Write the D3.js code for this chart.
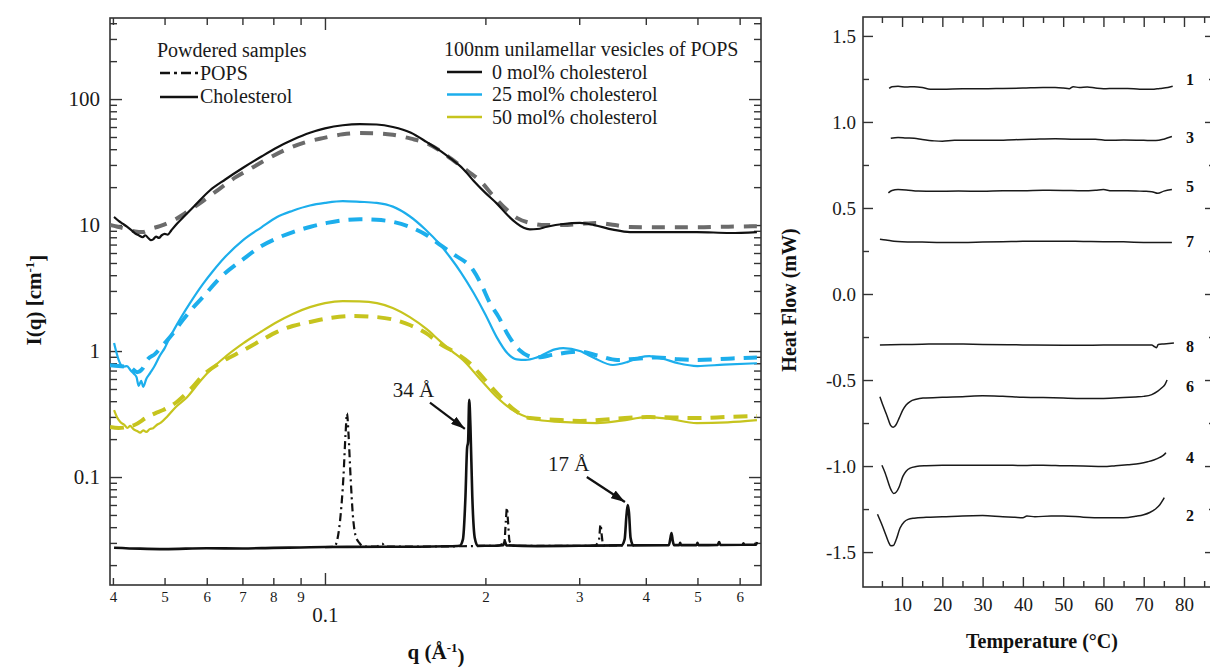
<!DOCTYPE html>
<html lang="en">
<head>
<meta charset="UTF-8">
<title>SAXS / DSC of POPS vesicles</title>
<script src="https://d3js.org/d3.v7.min.js"></script>
<style>
  body { margin: 0; background: #fff; }
  svg { display: block; font-family: "Liberation Serif", "Times New Roman", serif; }
  .frame { fill: none; stroke: #333; stroke-width: 1.6; }
  .axis path { display: none; }
  .axis line { stroke: #333; stroke-width: 1.4; }
  .axis text { fill: #1a1a1a; font-family: "Liberation Serif", "Times New Roman", serif; }
  .title { font-weight: bold; fill: #111; }
  .legend { font-size: 20px; fill: #1a1a1a; }
</style>
</head>
<body>
<div id="chart"></div>
<script>

// ---------- left panel: SAXS, q (1/Å) vs I(q) (1/cm) ----------
// vesicles, 0 mol% cholesterol (solid) and powder-equivalent fit (dashed grey)
var ves0 = [[0.0402,11.6],[0.0410,10.8],[0.0418,10.2],[0.0425,9.7],[0.0432,9.2],[0.0440,8.6],[0.0447,8.3],[0.0455,8.0],[0.0460,8.3],[0.0466,7.9],[0.0471,7.6],[0.0476,7.7],[0.0482,8.1],[0.0488,7.9],[0.0494,8.3],[0.0500,8.5],[0.0507,8.4],[0.0515,9.1],[0.0527,10.2],[0.0545,11.8],[0.0570,14.3],[0.0608,18.8],[0.0650,23.0],[0.0702,28.5],[0.0760,35.0],[0.0813,41.3],[0.0870,47.5],[0.0937,54.0],[0.1000,58.5],[0.1080,62.0],[0.1163,63.3],[0.1250,62.8],[0.1341,60.0],[0.1450,54.0],[0.1553,45.5],[0.1644,39.0],[0.1720,33.8],[0.1815,28.0],[0.1900,22.5],[0.2000,18.0],[0.2102,14.8],[0.2200,12.0],[0.2290,10.3],[0.2360,9.5],[0.2424,9.25],[0.2500,9.3],[0.2609,9.7],[0.2800,10.2],[0.3008,10.4],[0.3200,10.0],[0.3470,9.2],[0.3734,8.8],[0.4200,8.8],[0.4988,8.8],[0.5750,8.65],[0.6465,8.8]];
var ves0Dash = [[0.0395,10.0],[0.0420,9.4],[0.0440,8.9],[0.0455,8.8],[0.0470,9.3],[0.0490,9.8],[0.0520,10.9],[0.0551,12.7],[0.0590,15.5],[0.0635,19.5],[0.0680,24.0],[0.0733,28.8],[0.0790,34.5],[0.0848,40.0],[0.0920,45.5],[0.0991,49.0],[0.1080,52.5],[0.1163,53.7],[0.1250,53.5],[0.1341,52.0],[0.1450,48.5],[0.1553,44.5],[0.1650,38.5],[0.1769,31.0],[0.1860,26.5],[0.1954,22.5],[0.2070,17.0],[0.2195,13.2],[0.2300,11.3],[0.2424,10.4],[0.2600,10.0],[0.2796,10.0],[0.3000,10.2],[0.3237,10.4],[0.3500,10.0],[0.3734,9.65],[0.4300,9.6],[0.4988,9.6],[0.5700,9.7],[0.6465,9.8]];

// 25 mol% cholesterol
var ves25 = [[0.0402,1.16],[0.0406,0.98],[0.0410,0.85],[0.0418,0.75],[0.0425,0.76],[0.0432,0.70],[0.0438,0.66],[0.0443,0.62],[0.0447,0.53],[0.0452,0.58],[0.0456,0.52],[0.0462,0.60],[0.0470,0.67],[0.0478,0.75],[0.0490,0.92],[0.0500,1.05],[0.0512,1.29],[0.0535,1.80],[0.0558,2.40],[0.0590,3.4],[0.0616,4.3],[0.0650,5.6],[0.0702,7.6],[0.0760,9.6],[0.0813,11.6],[0.0870,13.0],[0.0937,14.3],[0.1000,15.0],[0.1080,15.5],[0.1163,15.3],[0.1250,15.0],[0.1341,14.0],[0.1440,11.8],[0.1540,9.3],[0.1644,7.0],[0.1720,5.5],[0.1800,4.2],[0.1900,2.9],[0.2000,1.95],[0.2100,1.29],[0.2200,0.96],[0.2290,0.86],[0.2380,0.85],[0.2500,0.89],[0.2700,1.03],[0.2800,1.056],[0.3008,1.0],[0.3200,0.88],[0.3470,0.775],[0.3700,0.82],[0.3900,0.89],[0.4060,0.91],[0.4300,0.87],[0.4600,0.80],[0.5000,0.76],[0.5600,0.78],[0.6465,0.80]];
var ves25Dash = [[0.0395,0.77],[0.0410,0.76],[0.0431,0.74],[0.0444,0.68],[0.0454,0.72],[0.0464,0.85],[0.0480,0.95],[0.0497,1.12],[0.0520,1.40],[0.0541,1.76],[0.0565,2.2],[0.0590,2.68],[0.0635,3.8],[0.0700,5.3],[0.0755,6.7],[0.0810,7.8],[0.0871,8.8],[0.0940,9.7],[0.1009,10.4],[0.1080,10.9],[0.1163,11.1],[0.1250,11.0],[0.1341,10.6],[0.1450,9.6],[0.1553,8.3],[0.1650,6.9],[0.1750,5.8],[0.1896,4.4],[0.1970,3.3],[0.2040,2.4],[0.2120,1.85],[0.2195,1.39],[0.2260,1.15],[0.2322,1.01],[0.2400,0.92],[0.2496,0.89],[0.2700,0.94],[0.3008,0.99],[0.3250,0.92],[0.3534,0.85],[0.3850,0.87],[0.4198,0.89],[0.4600,0.86],[0.4988,0.85],[0.5700,0.87],[0.6465,0.89]];

// 50 mol% cholesterol
var ves50 = [[0.0402,0.34],[0.0407,0.30],[0.0413,0.273],[0.0420,0.26],[0.0426,0.245],[0.0431,0.255],[0.0437,0.24],[0.0444,0.232],[0.0450,0.225],[0.0456,0.235],[0.0462,0.228],[0.0469,0.24],[0.0476,0.244],[0.0484,0.26],[0.0492,0.27],[0.0505,0.30],[0.0525,0.36],[0.0551,0.43],[0.0580,0.56],[0.0608,0.70],[0.0650,0.90],[0.0702,1.15],[0.0760,1.43],[0.0813,1.70],[0.0870,1.97],[0.0937,2.23],[0.1000,2.40],[0.1080,2.49],[0.1160,2.48],[0.1252,2.40],[0.1340,2.20],[0.1443,1.86],[0.1550,1.50],[0.1644,1.20],[0.1730,1.00],[0.1815,0.85],[0.1954,0.60],[0.2102,0.43],[0.2250,0.34],[0.2455,0.29],[0.2700,0.275],[0.3237,0.268],[0.3600,0.28],[0.4019,0.299],[0.4400,0.29],[0.4988,0.268],[0.5700,0.272],[0.6465,0.283]];
var ves50Dash = [[0.0395,0.25],[0.0410,0.245],[0.0425,0.249],[0.0440,0.26],[0.0464,0.299],[0.0480,0.32],[0.0497,0.34],[0.0527,0.394],[0.0560,0.50],[0.0590,0.64],[0.0640,0.82],[0.0702,1.01],[0.0760,1.22],[0.0813,1.42],[0.0870,1.58],[0.0937,1.70],[0.1030,1.84],[0.1128,1.90],[0.1252,1.86],[0.1340,1.78],[0.1443,1.61],[0.1550,1.38],[0.1644,1.14],[0.1750,0.98],[0.1870,0.80],[0.1990,0.60],[0.2102,0.464],[0.2250,0.35],[0.2424,0.294],[0.2700,0.285],[0.3008,0.279],[0.3500,0.29],[0.4019,0.299],[0.4500,0.297],[0.4988,0.294],[0.5700,0.30],[0.6465,0.305]];

// powdered samples
var powderChol = [[0.0402,0.0275],[0.0450,0.0270],[0.0500,0.0268],[0.0600,0.0272],[0.0700,0.0271],[0.0800,0.0274],[0.0900,0.0276],[0.1000,0.0278],[0.1100,0.0279],[0.1300,0.0280],[0.1500,0.0280],[0.1700,0.0282],[0.1790,0.0285],[0.1815,0.032],[0.1835,0.07],[0.1848,0.17],[0.1856,0.19],[0.1865,0.41],[0.1875,0.25],[0.1890,0.07],[0.1910,0.033],[0.1935,0.0285],[0.2100,0.0285],[0.2160,0.0287],[0.2175,0.031],[0.2190,0.0287],[0.2500,0.0283],[0.3000,0.0285],[0.3600,0.0287],[0.3650,0.032],[0.3680,0.05],[0.3700,0.060],[0.3720,0.052],[0.3745,0.033],[0.3790,0.0287],[0.4420,0.0288],[0.4450,0.033],[0.4470,0.036],[0.4495,0.031],[0.4520,0.0288],[0.4620,0.0288],[0.4640,0.0300],[0.4660,0.0288],[0.4980,0.0288],[0.5000,0.0300],[0.5020,0.0288],[0.5460,0.0289],[0.5490,0.0305],[0.5520,0.0289],[0.6080,0.0290],[0.6100,0.0298],[0.6120,0.0290],[0.6440,0.0290],[0.6465,0.0305]];
var powderPops = [[0.1000,0.0278],[0.1040,0.0279],[0.1055,0.032],[0.1070,0.05],[0.1083,0.10],[0.1093,0.22],[0.1100,0.32],[0.1107,0.22],[0.1117,0.10],[0.1128,0.05],[0.1140,0.035],[0.1160,0.030],[0.1185,0.0280],[0.1250,0.0280],[0.1280,0.0296],[0.1300,0.0280],[0.2100,0.0285],[0.2170,0.030],[0.2185,0.045],[0.2195,0.057],[0.2205,0.045],[0.2220,0.031],[0.2260,0.0284],[0.3200,0.0285],[0.3265,0.031],[0.3290,0.042],[0.3305,0.035],[0.3330,0.0286],[0.3800,0.0287]];

// axis ticks, left panel
var qLabelTicks = [0.04,0.05,0.06,0.07,0.08,0.09,0.2,0.3,0.4,0.5,0.6];
var qMajorTicks = [0.1];
var iMajorTicks = [0.1,1,10,100];
var iMinorTicks = [0.02,0.03,0.04,0.05,0.06,0.07,0.08,0.09,0.2,0.3,0.4,0.5,0.6,0.7,0.8,0.9,2,3,4,5,6,7,8,9,20,30,40,50,60,70,80,90,200,300,400];

// peak annotations (data coordinates)
var peakLabels = ["34 Å", "17 Å"];
var peakLabelAt = [[0.134,0.43],[0.262,0.1116]];
var peakArrowFrom = [[0.1574,0.39],[0.310,0.100]];
var peakArrowTo = [[0.1830,0.2415],[0.3655,0.0634]];

// ---------- right panel: DSC, Temperature (°C) vs Heat Flow (mW) ----------
var dsc1 = [[6.8,1.195],[7.5,1.205],[9,1.207],[11,1.203],[13,1.205],[15,1.2],[17,1.19],[20,1.19],[25,1.193],[30,1.193],[35,1.195],[40,1.197],[45,1.2],[48,1.2],[50,1.197],[51.5,1.193],[52.5,1.205],[54,1.2],[56,1.203],[58,1.197],[60,1.193],[63,1.195],[66,1.195],[69,1.19],[72,1.19],[74,1.195],[76,1.2],[77.2,1.207]];
var dsc3 = [[7.2,0.905],[9,0.91],[11,0.907],[13,0.905],[15,0.898],[18,0.89],[20,0.888],[23,0.893],[28,0.893],[33,0.893],[38,0.897],[43,0.9],[48,0.902],[53,0.9],[58,0.9],[61,0.893],[65,0.895],[70,0.893],[73,0.892],[75,0.9],[77,0.915]];
var dsc5 = [[6.6,0.588],[7.5,0.602],[9,0.607],[11,0.605],[14,0.598],[18,0.597],[24,0.598],[30,0.597],[35,0.6],[40,0.6],[45,0.603],[50,0.602],[55,0.6],[58,0.603],[60,0.607],[62,0.6],[66,0.6],[70,0.597],[72,0.595],[73.5,0.585],[75,0.598],[77,0.607]];
var dsc7 = [[4.5,0.318],[6,0.314],[8,0.307],[10,0.304],[15,0.302],[20,0.3],[25,0.3],[30,0.302],[35,0.304],[40,0.306],[45,0.307],[50,0.307],[55,0.305],[60,0.304],[65,0.303],[70,0.3],[74,0.299],[77,0.299]];
var dsc8 = [[4.5,-0.296],[10,-0.294],[15,-0.292],[20,-0.29],[25,-0.291],[30,-0.293],[40,-0.296],[50,-0.298],[60,-0.297],[68,-0.297],[72,-0.297],[72.6,-0.305],[73.2,-0.312],[73.6,-0.293],[75,-0.29],[77.5,-0.285]];
var dsc6 = [[4.5,-0.597],[5.3,-0.65],[6.3,-0.71],[7.2,-0.765],[7.8,-0.775],[8.5,-0.76],[9.3,-0.72],[10.2,-0.674],[11,-0.645],[12,-0.625],[13.5,-0.612],[15.2,-0.605],[20,-0.6],[25,-0.597],[30,-0.592],[35,-0.595],[40,-0.6],[45,-0.602],[50,-0.605],[55,-0.607],[60,-0.607],[65,-0.602],[68,-0.598],[70,-0.595],[72,-0.585],[73.5,-0.565],[74.5,-0.545],[75.3,-0.525],[75.8,-0.5]];
var dsc4 = [[5,-0.995],[5.8,-1.04],[6.5,-1.09],[7.3,-1.14],[7.9,-1.16],[8.6,-1.15],[9.3,-1.12],[10.2,-1.06],[11,-1.03],[12,-1.012],[13.5,-1.003],[16,-0.998],[20,-0.995],[25,-0.995],[30,-0.995],[35,-0.995],[40,-0.997],[45,-0.995],[50,-0.998],[55,-1.0],[60,-1.003],[63,-0.998],[66,-0.992],[69,-0.985],[71,-0.975],[72.5,-0.965],[74,-0.95],[75,-0.935],[75.5,-0.922]];
var dsc2 = [[3.9,-1.28],[4.8,-1.33],[5.8,-1.39],[6.6,-1.44],[7.2,-1.463],[7.8,-1.462],[8.5,-1.43],[9.5,-1.36],[10.5,-1.325],[11.5,-1.31],[13,-1.303],[16,-1.298],[20,-1.295],[25,-1.29],[30,-1.288],[35,-1.295],[38,-1.298],[40,-1.3],[41,-1.29],[43,-1.295],[47,-1.29],[50,-1.29],[55,-1.297],[60,-1.3],[65,-1.3],[68,-1.292],[70,-1.283],[71.5,-1.27],[73,-1.248],[74,-1.225],[74.7,-1.2],[75.1,-1.183]];

var dscNames = ["1","3","5","7","8","6","4","2"];
var dscSeries = [dsc1, dsc3, dsc5, dsc7, dsc8, dsc6, dsc4, dsc2];
var dscNameY = [1.247, 0.91, 0.628, 0.305, -0.305, -0.538, -0.948, -1.285];

var tempMajorTicks = [10,20,30,40,50,60,70,80];
var tempMinorTicks = [5,15,25,35,45,55,65,75,85];
var flowMajorTicks = [-1.5,-1.0,-0.5,0.0,0.5,1.0,1.5];
var flowMinorTicks = [-1.25,-0.75,-0.25,0.25,0.75,1.25];

// ---------- drawing ----------
var svg = d3.select("#chart").append("svg")
    .attr("width", 1210)
    .attr("height", 667);

svg.append("rect").attr("width", 1210).attr("height", 667).attr("fill", "#fff");

var defs = svg.append("defs");
defs.append("marker")
    .attr("id", "arrowhead")
    .attr("viewBox", "0 0 14 9")
    .attr("refX", 14).attr("refY", 4.5)
    .attr("markerWidth", 14).attr("markerHeight", 9)
    .attr("markerUnits", "userSpaceOnUse")
    .attr("orient", "auto")
  .append("path")
    .attr("d", "M0,0L14,4.5L0,9Z")
    .attr("fill", "#111");

function addAxis(axis, tx, ty, fontSize) {
  var g = svg.append("g")
      .attr("class", "axis")
      .attr("transform", "translate(" + tx + "," + ty + ")")
      .call(axis);
  g.selectAll("text").style("font-size", (fontSize || 10) + "px");
  return g;
}

// left scales
var xL = d3.scaleLog().domain([0.0395, 0.658]).range([110, 761]);
var yL = d3.scaleLog().domain([0.0139, 440]).range([585, 18]);

// left axes, ticks pointing inward
addAxis(d3.axisBottom(xL).tickValues(qLabelTicks).tickSizeInner(-7).tickSizeOuter(0).tickPadding(6)
    .tickFormat(function(d) { return d < 0.1 ? Math.round(d * 100) : Math.round(d * 10); }), 0, 585, 15);
addAxis(d3.axisBottom(xL).tickValues(qMajorTicks).tickSizeInner(-12).tickSizeOuter(0).tickPadding(22)
    .tickFormat(function() { return "0.1"; }), 0, 585, 21);
addAxis(d3.axisTop(xL).tickValues(qLabelTicks).tickSizeInner(-7).tickSizeOuter(0).tickFormat(""), 0, 18);
addAxis(d3.axisTop(xL).tickValues(qMajorTicks).tickSizeInner(-12).tickSizeOuter(0).tickFormat(""), 0, 18);

addAxis(d3.axisLeft(yL).tickValues(iMajorTicks).tickSizeInner(-12).tickSizeOuter(0).tickPadding(10)
    .tickFormat(function(d) { return d < 1 ? "0.1" : d; }), 110, 0, 21);
addAxis(d3.axisLeft(yL).tickValues(iMinorTicks).tickSizeInner(-7).tickSizeOuter(0).tickFormat(""), 110, 0);
addAxis(d3.axisRight(yL).tickValues(iMajorTicks).tickSizeInner(-12).tickSizeOuter(0).tickFormat(""), 761, 0);
addAxis(d3.axisRight(yL).tickValues(iMinorTicks).tickSizeInner(-7).tickSizeOuter(0).tickFormat(""), 761, 0);

svg.append("rect").attr("class", "frame")
    .attr("x", 110).attr("y", 18).attr("width", 651).attr("height", 567);

defs.append("clipPath").attr("id", "clipL")
  .append("rect").attr("x", 110).attr("y", 18).attr("width", 651).attr("height", 567);

var lineL = d3.line()
    .x(function(d) { return xL(d[0]); })
    .y(function(d) { return yL(d[1]); })
    .curve(d3.curveMonotoneX);

var plotL = svg.append("g").attr("clip-path", "url(#clipL)");

function addCurve(g, line, data, color, width, dash) {
  g.append("path")
      .datum(data)
      .attr("d", line)
      .attr("fill", "none")
      .attr("stroke", color)
      .attr("stroke-width", width)
      .attr("stroke-linejoin", "round")
      .attr("stroke-dasharray", dash || null);
}

var blue = "#1caeec", yellow = "#c6c41e", grey = "#6b6b6b";

// dashed first, solid on top
addCurve(plotL, lineL, ves0Dash, grey, 4, "13,10");
addCurve(plotL, lineL, ves25Dash, blue, 4, "14,9");
addCurve(plotL, lineL, ves50Dash, yellow, 4, "14,9");
addCurve(plotL, lineL, powderChol, "#111", 2.6);
addCurve(plotL, lineL, powderPops, "#111", 2.2, "8,4,2,4");
addCurve(plotL, lineL, ves0, "#111", 2.2);
addCurve(plotL, lineL, ves25, blue, 2.2);
addCurve(plotL, lineL, ves50, yellow, 2.2);

// peak annotations
peakLabels.forEach(function(t, i) {
  svg.append("text")
      .attr("x", xL(peakLabelAt[i][0]))
      .attr("y", yL(peakLabelAt[i][1]))
      .style("font-size", "21px")
      .attr("fill", "#1a1a1a")
      .text(t);
  svg.append("line")
      .attr("x1", xL(peakArrowFrom[i][0])).attr("y1", yL(peakArrowFrom[i][1]))
      .attr("x2", xL(peakArrowTo[i][0])).attr("y2", yL(peakArrowTo[i][1]))
      .attr("stroke", "#111")
      .attr("stroke-width", 2.2)
      .attr("marker-end", "url(#arrowhead)");
});

// legends
var legL = svg.append("g").attr("class", "legend");
legL.append("text").attr("x", 157).attr("y", 57).text("Powdered samples");
legL.append("line").attr("x1", 160).attr("x2", 198).attr("y1", 73).attr("y2", 73)
    .attr("stroke", "#111").attr("stroke-width", 2.6).attr("stroke-dasharray", "10,4,3,4");
legL.append("text").attr("x", 200).attr("y", 80).text("POPS");
legL.append("line").attr("x1", 160).attr("x2", 198).attr("y1", 97).attr("y2", 97)
    .attr("stroke", "#111").attr("stroke-width", 2.6);
legL.append("text").attr("x", 200).attr("y", 103).text("Cholesterol");

var vesNames = ["0 mol% cholesterol", "25 mol% cholesterol", "50 mol% cholesterol"];
var vesColors = ["#111", blue, yellow];
var legR = svg.append("g").attr("class", "legend");
legR.append("text").attr("x", 444).attr("y", 56).text("100nm unilamellar vesicles of POPS");
vesNames.forEach(function(n, i) {
  var y = 72 + i * 22.5;
  legR.append("line").attr("x1", 447).attr("x2", 482).attr("y1", y).attr("y2", y)
      .attr("stroke", vesColors[i]).attr("stroke-width", 2.6);
  legR.append("text").attr("x", 492).attr("y", y + 6.5).text(n);
});

// left axis titles
var yt = svg.append("text").attr("class", "title")
    .attr("transform", "translate(41,300) rotate(-90)")
    .attr("text-anchor", "middle")
    .style("font-size", "21px");
yt.append("tspan").text("I(q) [cm");
yt.append("tspan").attr("dy", "-0.55em").style("font-size", "13px").text("-1");
yt.append("tspan").attr("dy", "0.55em").text("]");

var xt = svg.append("text").attr("class", "title")
    .attr("x", 436).attr("y", 659)
    .attr("text-anchor", "middle")
    .style("font-size", "21px");
xt.append("tspan").text("q (Å");
xt.append("tspan").attr("dy", "-0.55em").style("font-size", "13px").text("-1");
xt.append("tspan").attr("dy", "0.55em").text(")");

// ---------- right panel ----------
var xR = d3.scaleLinear().domain([0.3, 87.7]).range([863, 1215]);
var yR = d3.scaleLinear().domain([-1.703, 1.61]).range([587, 17]);

addAxis(d3.axisBottom(xR).tickValues(tempMajorTicks).tickSizeInner(-10).tickSizeOuter(0).tickPadding(11), 0, 587, 19);
addAxis(d3.axisBottom(xR).tickValues(tempMinorTicks).tickSizeInner(-6).tickSizeOuter(0).tickFormat(""), 0, 587);
addAxis(d3.axisTop(xR).tickValues(tempMajorTicks).tickSizeInner(-10).tickSizeOuter(0).tickFormat(""), 0, 17);
addAxis(d3.axisTop(xR).tickValues(tempMinorTicks).tickSizeInner(-6).tickSizeOuter(0).tickFormat(""), 0, 17);

addAxis(d3.axisLeft(yR).tickValues(flowMajorTicks).tickSizeInner(-10).tickSizeOuter(0).tickPadding(7)
    .tickFormat(function(d) { return d.toFixed(1); }), 863, 0, 19);
addAxis(d3.axisLeft(yR).tickValues(flowMinorTicks).tickSizeInner(-6).tickSizeOuter(0).tickFormat(""), 863, 0);
addAxis(d3.axisRight(yR).tickValues(flowMajorTicks).tickSizeInner(-10).tickSizeOuter(0).tickFormat(""), 1215, 0);
addAxis(d3.axisRight(yR).tickValues(flowMinorTicks).tickSizeInner(-6).tickSizeOuter(0).tickFormat(""), 1215, 0);

svg.append("rect").attr("class", "frame")
    .attr("x", 863).attr("y", 17).attr("width", 352).attr("height", 570);

var lineR = d3.line()
    .x(function(d) { return xR(d[0]); })
    .y(function(d) { return yR(d[1]); })
    .curve(d3.curveMonotoneX);

var plotR = svg.append("g");
dscSeries.forEach(function(s) { addCurve(plotR, lineR, s, "#1a1a1a", 1.5); });

plotR.selectAll(".dscname")
    .data(dscNames)
    .enter().append("text")
    .attr("class", "dscname")
    .attr("x", xR(81.5))
    .attr("y", function(d, i) { return yR(dscNameY[i]); })
    .attr("dy", "0.35em")
    .attr("text-anchor", "middle")
    .style("font-size", "16px")
    .style("font-weight", "bold")
    .attr("fill", "#111")
    .text(function(d) { return d; });

svg.append("text").attr("class", "title")
    .attr("transform", "translate(796,300) rotate(-90)")
    .attr("text-anchor", "middle")
    .style("font-size", "20px")
    .text("Heat Flow (mW)");

svg.append("text").attr("class", "title")
    .attr("x", 1042).attr("y", 648)
    .attr("text-anchor", "middle")
    .style("font-size", "20px")
    .text("Temperature (°C)");

</script>
</body>
</html>
